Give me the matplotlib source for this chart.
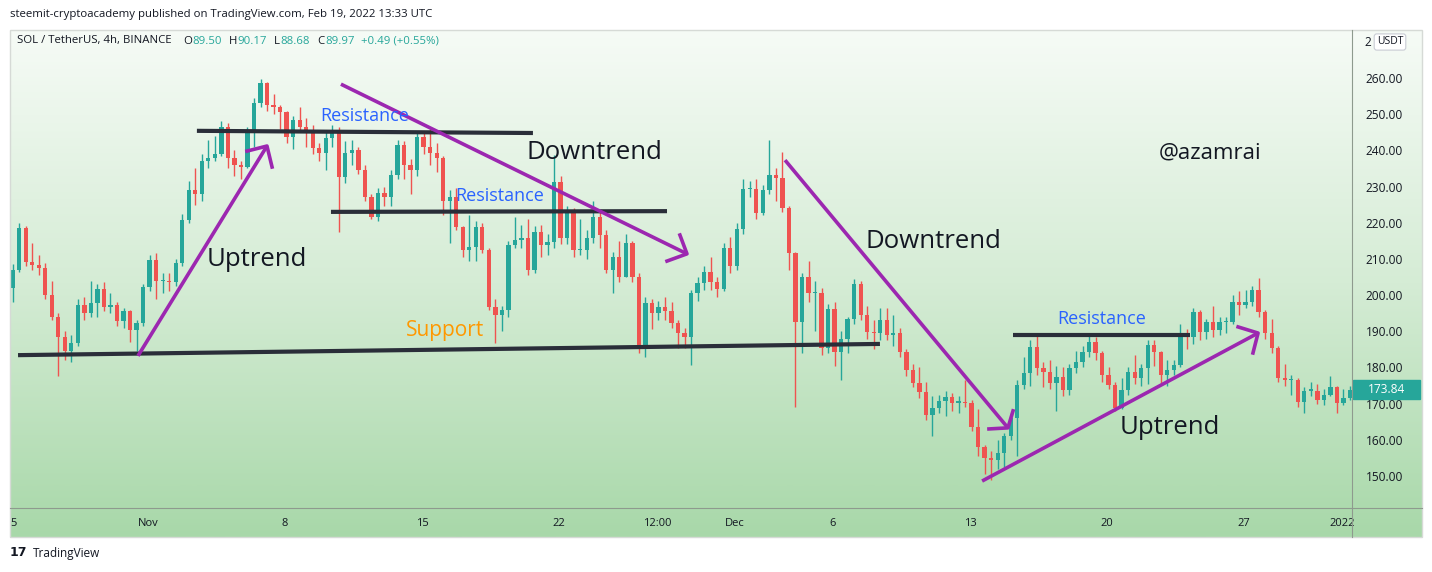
import numpy as np
import matplotlib
matplotlib.use("Agg")
import matplotlib.pyplot as plt
from matplotlib.colors import LinearSegmentedColormap
from matplotlib.patches import Rectangle
from matplotlib.lines import Line2D

W, H = 1432, 572

# SOL/USDT candles, 8h each, first one opens Oct 25 00:00 (x axis = days from Nov 1)
first_open = 202.0
closes = [
    207, 218.5, 209.2, 208.3, 207.4, 200, 194, 188.5, 184.5, 186.8,
    197.3, 195, 197.7, 201.6, 196.8, 197.3, 192.9, 195.6, 190.4, 192.2,
    202.2, 209.7, 203.8, 203.8, 203.5, 208.8, 220.8, 229, 228, 237,
    238, 239, 246.5, 237.8, 236, 235.5, 245, 253, 258.5, 252.5,
    252, 250.7, 243.8, 248.4, 246.5, 245.6, 240.6, 239.2, 243.3, 245.2,
    232.7, 239.2, 240, 234.6, 227.2, 221.7, 228.1, 227.2, 233.2, 241.5,
    236, 234.6, 243.8, 241, 239.2, 237.8, 226, 227.2, 218.9, 212.5,
    213.4, 218.9, 212.5, 196.8, 194.5, 195.9, 213.8, 215.2, 215.8, 207,
    217.5, 213.8, 214.7, 231.3, 215.7, 222.6, 212.5, 212.5, 215.8, 221.7,
    216.6, 207, 210.6, 205.1, 214.3, 205.1, 185.3, 197.7, 195, 196.8,
    195.5, 192.4, 189.4, 188.5, 200.5, 203.4, 206.5, 203.7, 201.6, 212.9,
    208, 218.2, 229.2, 229.2, 222.6, 229, 233.2, 232.3, 224, 211.5,
    192.6, 204.9, 200.5, 200.5, 185.3, 196.1, 184.4, 188, 193.3, 203.1,
    194.5, 189.9, 189.4, 193.1, 189, 189.4, 184.4, 179.3, 175.6, 173.3,
    166.9, 168.7, 170.8, 171.9, 170.3, 170.3, 170.1, 163.6, 158.1, 154.9,
    154.4, 156.3, 161, 166, 175.2, 178.4, 185.7, 179.8, 178.8, 175.6,
    177.4, 173.8, 179.8, 181.6, 184.4, 187.1, 183.9, 177.9, 175.1, 168.7,
    173.8, 178.8, 177, 179.8, 186.2, 184.4, 177.9, 179.3, 180.7, 189.4,
    188.4, 195.4, 189.9, 192.6, 190.3, 192.6, 192.6, 198.2, 197.3, 198.2,
    201.4, 195.4, 189.4, 185.3, 177, 176.5, 176.5, 170.5, 173.6, 173.6,
    171, 172.4, 174.6, 170.1, 171.5, 173.84,
]
highs = [
    208.5, 219.8, 219, 214.4, 211, 209, 204, 195, 190, 189,
    199, 199.5, 204, 203, 203.5, 200.5, 198, 196.5, 196, 193,
    203, 211, 211.5, 206, 206, 210, 222.5, 231.5, 235, 239,
    243, 244, 248, 247.5, 240, 237, 246.5, 254.5, 259.8, 259,
    255.5, 252.5, 251, 249.5, 252, 249, 247, 242, 245.5, 247,
    246.5, 242.5, 243, 241, 236, 228, 229.5, 230, 234.5, 243,
    242.5, 237.5, 245, 245, 246, 242, 238.5, 229, 229.5, 219,
    222, 220.5, 220, 213, 199, 197, 215, 221.5, 219.5, 221,
    219, 219.5, 217, 238.7, 233, 224.5, 224, 221, 218, 226,
    223, 218, 212, 215, 217, 215, 206, 199.5, 199, 198.5,
    199.5, 198, 193, 191, 201.5, 205, 208, 210.5, 205, 214.5,
    216, 220, 232, 231.5, 232, 230.5, 243, 235, 239.5, 224.5,
    212, 206, 209.5, 204, 202, 197.5, 198, 190, 194, 204.5,
    204, 197, 193, 196.5, 196.5, 194.5, 191, 185, 181, 180,
    176, 172, 172.5, 173.5, 173, 172, 176.5, 171, 168.5, 158.5,
    157, 160, 162, 167.5, 176.5, 183, 187.5, 188.8, 181.5, 182,
    180.5, 180, 181, 184.5, 186, 189.5, 188.5, 184.5, 180, 176,
    177, 180, 183.5, 181, 187.5, 187.5, 184.5, 182, 182, 192,
    190.5, 196.5, 196, 193.5, 197, 194, 194, 200, 201, 201.5,
    202.5, 204.7, 196, 193.5, 186, 181, 178, 177, 174.5, 176,
    175.5, 174, 177.5, 175, 174, 175,
]
lows = [
    198, 206.5, 208, 207, 205.5, 199, 193, 177.5, 182, 181.5,
    186, 193, 194, 194, 195.5, 195, 191.5, 191, 187, 184.5,
    191.5, 201, 199, 200.5, 201, 202.5, 208, 220, 225, 226,
    235, 237, 238.5, 235, 233, 232, 235, 241, 252, 251,
    250, 246, 242, 240.5, 245, 241, 239, 237, 234.5, 241,
    217.5, 231, 236, 233.5, 226, 221, 220.5, 224.5, 224.5, 232,
    232, 228, 233, 239, 236, 234, 222, 214.5, 218, 210.5,
    209.5, 209.5, 211.5, 196, 186.8, 190, 194, 213, 213, 205.5,
    206, 210.5, 211, 213, 214, 214, 210.5, 211, 210, 214.5,
    213, 206, 200.5, 203.5, 205, 203.5, 184, 183, 190.5, 193,
    193, 191, 185.5, 185.5, 180.7, 198.5, 201.5, 201.5, 199.5, 201,
    206, 207, 217, 227, 221, 222, 228, 226, 223, 207,
    169, 184, 198, 190, 183.5, 184, 180.5, 176.5, 184, 192,
    193, 188, 185, 187.5, 187.5, 186, 183, 177.5, 174.5, 171.5,
    165.5, 161, 167.5, 166.5, 168, 167.5, 169, 162.5, 155.5, 150.5,
    149, 152, 152.5, 160, 155.5, 174, 175, 178, 174.5, 174,
    168, 172, 172.5, 178.5, 180, 183, 182, 176, 174, 168,
    168.5, 172.5, 175.5, 175, 175.5, 180.5, 175.5, 175, 178, 180,
    185, 186.5, 187.5, 188, 188.5, 189, 189.5, 192, 194.5, 196.5,
    197, 194, 188, 184, 176, 175, 172.5, 169, 167.5, 172,
    170, 169.5, 172, 167.5, 169.5, 171,
]
last_price = 173.84

tick_days = [-6.85, 0, 7, 14, 21, 26, 30, 35, 42, 49, 56, 61]
tick_labels = ["5", "Nov", "8", "15", "22", "12:00", "Dec", "6", "13", "20", "27", "2022"]
price_ticks = [150, 160, 170, 180, 190, 200, 210, 220, 230, 240, 250, 260]

# legend row values
legend_ohlc = [("O", "89.50"), ("H", "90.17"), ("L", "88.68"), ("C", "89.97")]
legend_change = "+0.49 (+0.55%)"

# drawings (day, price)
black_lines = [
    ([-6.64, 37.40], [183.4, 186.5]),
    ([2.50, 19.67], [245.4, 244.8]),
    ([9.35, 26.52], [223.0, 223.2]),
    ([44.2, 53.24], [189.0, 189.0]),
]
arrows = [
    ([-0.51, 6.08], [183.2, 241.2], [5.06, 239.8], [6.34, 235.4]),
    ([9.86, 27.54], [258.3, 211.4], [26.52, 209.4], [27.18, 216.6]),
    ([32.55, 43.94], [237.3, 163.3], [42.97, 163.0], [44.20, 168.0]),
    ([42.62, 56.72], [148.6, 189.5], [55.70, 191.2], [56.46, 184.0]),
]
labels = [
    ("Resistance", 11.09, 249.5, 13, "#2962ff"),
    ("Resistance", 17.99, 227.4, 13, "#2962ff"),
    ("Resistance", 48.75, 193.4, 13, "#2962ff"),
    ("Support", 15.18, 190.1, 15, "#ff9800"),
    ("Downtrend", 22.79, 239.3, 18.5, "#131722"),
    ("Downtrend", 40.11, 214.7, 18.5, "#131722"),
    ("Uptrend", 5.57, 209.7, 18.5, "#131722"),
    ("Uptrend", 52.22, 163.5, 18.5, "#131722"),
    ("@azamrai", 54.27, 239.3, 16, "#131722"),
]

plt.rcParams['font.family'] = ['Open Sans', 'DejaVu Sans']

UP, DOWN = "#26a69a", "#ef5350"
PURPLE = "#9c27b0"
DARK = "#131722"

fig = plt.figure(figsize=(W / 100, H / 100), dpi=100)
fig.patch.set_facecolor("white")

# background gradient for the whole chart frame
bg = fig.add_axes([10 / W, 1 - 537 / H, 1412 / W, 507 / H])
cmap = LinearSegmentedColormap.from_list("bg", ["#f6fbf6", "#d5ecd5", "#a8d8a9"])
bg.imshow(np.linspace(0, 1, 256)[:, None], cmap=cmap, aspect="auto", extent=[0, 1, 0, 1])
bg.set_axis_off()
fig.add_artist(Rectangle((10 / W, 1 - 537 / H), 1412 / W, 507 / H, transform=fig.transFigure,
                         fill=False, ec="#d6dad6", lw=1))

ax = fig.add_axes([10 / W, 1 - 508 / H, 1342 / W, 478 / H])
ax.patch.set_alpha(0)
for s in ax.spines.values():
    s.set_visible(False)

c = np.array(closes)
o = np.concatenate([[first_open], c[:-1]])
hi = np.array(highs)
lo = np.array(lows)
t = -7 + (np.arange(len(c)) + 0.25) / 3
col = np.where(c >= o, UP, DOWN)
ax.vlines(t, lo, hi, colors=col, lw=1, zorder=2)
ax.bar(t, np.maximum(np.abs(c - o), 0.35), bottom=np.minimum(o, c), width=0.22,
       color=col, linewidth=0, zorder=3)

for xs, ys in black_lines:
    ax.plot(xs, ys, color="#2a2e39", lw=3, solid_capstyle="butt", zorder=4)
for xs, ys, b1, b2 in arrows:
    ax.plot(xs, ys, color=PURPLE, lw=2.6, solid_capstyle="butt", zorder=5)
    ax.plot([b1[0], xs[1], b2[0]], [b1[1], ys[1], b2[1]], color=PURPLE, lw=2.6, zorder=5)
for s, x, y, fs, colr in labels:
    ax.text(x, y, s, ha="center", va="center", fontsize=fs, color=colr, zorder=6)

ax.set_xlim(-7.05, 61.52)
ax.set_ylim(141.15, 273.27)
ax.set_xticks(tick_days)
ax.set_xticklabels(tick_labels)
ax.set_yticks(price_ticks)
ax.set_yticklabels([f"{p:.2f}" for p in price_ticks])
ax.yaxis.tick_right()
ax.tick_params(axis="y", length=0, pad=10, labelsize=8.6, labelcolor=DARK)
ax.tick_params(axis="x", length=0, pad=7, labelsize=8, labelcolor=DARK)

# last price tag
ytr = ax.get_yaxis_transform()
ax.add_patch(Rectangle((1.0008, last_price - 2.6), 0.05, 5.2, transform=ytr, color=UP,
                       clip_on=False, zorder=7))
ax.text(1.0255, last_price, f"{last_price:.2f}", transform=ytr, ha="center", va="center",
        color="white", fontsize=8.6, clip_on=False, zorder=8)

# separators
fig.add_artist(Line2D([1352 / W, 1352 / W], [1 - 30 / H, 1 - 537 / H], color="#8e9a8e", lw=0.8))
fig.add_artist(Line2D([10 / W, 1422 / W], [1 - 508 / H, 1 - 508 / H], color="#8e9a8e", lw=0.8))

# top of price scale: partly hidden "2" next to the unit box
fig.text(1364 / W, 1 - 42 / H, "2", fontsize=8.6, ha="left", va="center", color=DARK)
fig.text(1390 / W, 1 - 42 / H, "USDT", fontsize=7.5, ha="center", va="center", color=DARK,
         bbox=dict(boxstyle="round,pad=0.25", fc="white", ec="#c9ccd4", lw=0.8), zorder=9)

# header / legend
fig.text(10 / W, 1 - 14 / H, "steemit-cryptoacademy published on TradingView.com, Feb 19, 2022 13:33 UTC",
         fontsize=8.2, va="center", color=DARK)
fig.text(17 / W, 1 - 41 / H, "SOL / TetherUS, 4h, BINANCE", fontsize=8.2, va="center", color=DARK)

renderer = fig.canvas.get_renderer()
px = 183
for k, v in legend_ohlc:
    tk = fig.text(px / W, 1 - 41 / H, k, fontsize=8.2, va="center", color=DARK)
    px = tk.get_window_extent(renderer).x1 + 0.5
    tv = fig.text(px / W, 1 - 41 / H, v, fontsize=8.2, va="center", color=UP)
    px = tv.get_window_extent(renderer).x1 + 7
fig.text(px / W, 1 - 41 / H, legend_change, fontsize=8.2, va="center", color=UP)

fig.text(10 / W, 1 - 553 / H, "17", fontsize=9, fontweight="heavy", va="center", color=DARK,
         family="DejaVu Sans")
fig.text(33 / W, 1 - 553 / H, "TradingView", fontsize=8.5, va="center", color=DARK)

fig.savefig("out.png", dpi=100)
